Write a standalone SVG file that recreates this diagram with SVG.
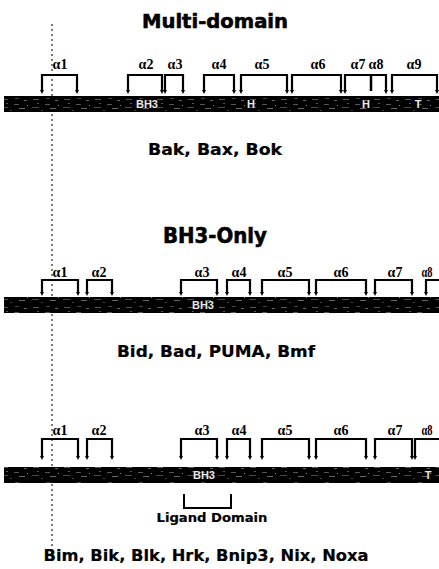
<svg xmlns="http://www.w3.org/2000/svg" width="439" height="569" viewBox="0 0 439 569">
<style>
.title{font-family:"DejaVu Sans","Liberation Sans",sans-serif;font-weight:bold;fill:#000;stroke:#000;stroke-width:0.6;text-anchor:middle}
.cap{font-family:"DejaVu Sans","Liberation Sans",sans-serif;font-weight:bold;fill:#000;stroke:#000;stroke-width:0.2;text-anchor:middle}
.al{font-family:"Liberation Serif","DejaVu Serif",serif;font-weight:bold;font-size:14px;fill:#000;text-anchor:middle}
.br{fill:none;stroke:#000;stroke-width:2.2;marker-start:url(#tip);marker-end:url(#tip)}
.lig{fill:none;stroke:#000;stroke-width:2}
.bar{fill:url(#tex)}
.bt{font-family:"Liberation Sans",sans-serif;font-weight:bold;font-size:11px;fill:#e8e8e8;text-anchor:middle}
.dash{fill:none;stroke:#333;stroke-width:1.3;stroke-dasharray:2 3}
</style>
<defs>
<marker id="tip" viewBox="0 0 6 6" refX="2" refY="3" markerWidth="2" markerHeight="2" orient="auto-start-reverse" markerUnits="strokeWidth">
<path d="M0,0 L6,3 L0,6 z" fill="#000"/>
</marker>
<pattern id="tex" width="31" height="16" patternUnits="userSpaceOnUse">
<rect width="31" height="16" fill="#000"/>
<rect x="2" y="3" width="6" height="1" fill="#555"/>
<rect x="15" y="2" width="4" height="1" fill="#444"/>
<rect x="24" y="4" width="3" height="1" fill="#666"/>
<rect x="6" y="7" width="2" height="1" fill="#555"/>
<rect x="14" y="8" width="5" height="1" fill="#555"/>
<rect x="1" y="11" width="7" height="1" fill="#4a4a4a"/>
<rect x="19" y="12" width="6" height="1" fill="#666"/>
<rect x="27" y="9" width="1" height="1" fill="#888"/>
<rect x="10" y="14" width="2" height="1" fill="#444"/>
</pattern>
</defs>

<g id="connectors">
<path class="dash" d="M52,24 V555"/>
</g>

<g id="multi-domain">
<text class="title" x="215" y="28" font-size="20" textLength="146" lengthAdjust="spacingAndGlyphs">Multi-domain</text>
<rect class="bar" x="4" y="96" width="435" height="16"/>
<text class="bt" x="147" y="108">BH3</text>
<text class="bt" x="251" y="108">H</text>
<text class="bt" x="366" y="108">H</text>
<text class="bt" x="418" y="108">T</text>
<path class="br" d="M42,91 V75 H77 V91"/>
<path class="br" d="M128,91 V75 H162 V91"/>
<path class="br" d="M165,91 V75 H183 V91"/>
<path class="br" d="M204,91 V75 H234 V91"/>
<path class="br" d="M241,91 V75 H287 V91"/>
<path class="br" d="M292,91 V75 H341 V91"/>
<path class="br" d="M345,91 V75 H386 V91"/>
<path fill="none" stroke="#000" stroke-width="2.5" d="M371,75 V91"/>
<path class="br" d="M392,91 V75 H437 V91"/>
<text class="al" x="60" y="69">α1</text>
<text class="al" x="146" y="69">α2</text>
<text class="al" x="175" y="69">α3</text>
<text class="al" x="219" y="69">α4</text>
<text class="al" x="262" y="69">α5</text>
<text class="al" x="318" y="69">α6</text>
<text class="al" x="358" y="69">α7</text>
<text class="al" x="376" y="69">α8</text>
<text class="al" x="414" y="69">α9</text>
<text class="cap" x="215" y="155" font-size="15.5" textLength="134" lengthAdjust="spacingAndGlyphs">Bak, Bax, Bok</text>
</g>

<g id="bh3-only">
<text class="title" x="215" y="243" font-size="21" textLength="104" lengthAdjust="spacingAndGlyphs">BH3-Only</text>
<rect class="bar" x="4" y="297" width="435" height="16"/>
<text class="bt" x="203" y="309">BH3</text>
<path class="br" d="M42,293 V280 H78 V293"/>
<path class="br" d="M87,293 V280 H112 V293"/>
<path class="br" d="M181,293 V280 H217 V293"/>
<path class="br" d="M227,293 V280 H250 V293"/>
<path class="br" d="M262,293 V280 H309 V293"/>
<path class="br" d="M316,293 V280 H366 V293"/>
<path class="br" d="M375,293 V280 H412 V293"/>
<path class="br" d="M426,293 V280 H445"/>
<text class="al" x="60" y="277">α1</text>
<text class="al" x="99" y="277">α2</text>
<text class="al" x="202" y="277">α3</text>
<text class="al" x="239" y="277">α4</text>
<text class="al" x="285" y="277">α5</text>
<text class="al" x="341" y="277">α6</text>
<text class="al" x="395" y="277">α7</text>
<text class="al" x="427" y="277" text-anchor="start" textLength="11" lengthAdjust="spacingAndGlyphs">α8</text>
<text class="cap" x="216" y="357" font-size="15.5" textLength="198" lengthAdjust="spacingAndGlyphs">Bid, Bad, PUMA, Bmf</text>
</g>

<g id="bh3-only-2">
<rect class="bar" x="4" y="467" width="435" height="16"/>
<text class="bt" x="204" y="479">BH3</text>
<text class="bt" x="428" y="479">T</text>
<path class="br" d="M42,457 V439 H78 V457"/>
<path class="br" d="M87,457 V439 H112 V457"/>
<path class="br" d="M181,457 V439 H217 V457"/>
<path class="br" d="M227,457 V439 H250 V457"/>
<path class="br" d="M262,457 V439 H309 V457"/>
<path class="br" d="M316,457 V439 H366 V457"/>
<path class="br" d="M375,457 V439 H412 V457"/>
<path class="br" d="M415,457 V439 H445"/>
<text class="al" x="60" y="435">α1</text>
<text class="al" x="99" y="435">α2</text>
<text class="al" x="202" y="435">α3</text>
<text class="al" x="239" y="435">α4</text>
<text class="al" x="285" y="435">α5</text>
<text class="al" x="341" y="435">α6</text>
<text class="al" x="395" y="435">α7</text>
<text class="al" x="427" y="435" text-anchor="start" textLength="11" lengthAdjust="spacingAndGlyphs">α8</text>
<path class="lig" d="M184,494 V508 H231 V494"/>
<text class="cap" x="212" y="522" font-size="11.5" textLength="111" lengthAdjust="spacingAndGlyphs">Ligand Domain</text>
<text class="cap" x="206" y="561" font-size="16.5" textLength="325" lengthAdjust="spacingAndGlyphs">Bim, Bik, Blk, Hrk, Bnip3, Nix, Noxa</text>
</g>
</svg>
